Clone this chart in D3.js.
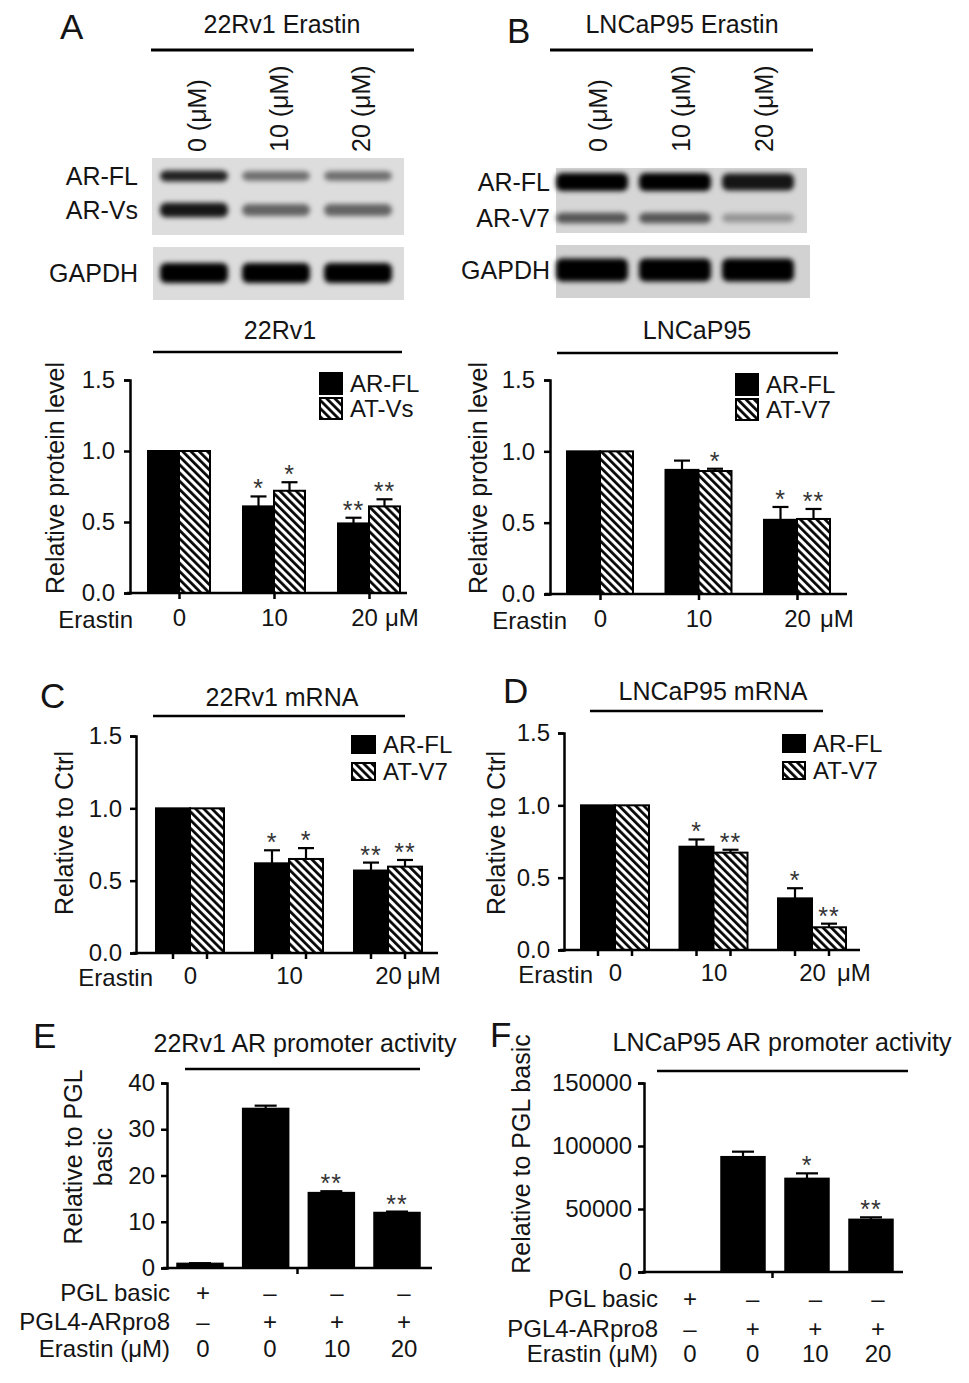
<!DOCTYPE html>
<html><head><meta charset="utf-8">
<script src="https://cdn.jsdelivr.net/npm/d3@7"></script>
<style>
body{margin:0;background:#fff;}
svg text{font-family:"Liberation Sans", Arial, Helvetica, sans-serif;fill:#141414;}
</style></head><body>
<svg id="fig" width="969" height="1383"></svg>
<script>
// ---------------- DATA ----------------
const doseGroups = ["0", "10", "20"];
const blotLanes = ["0 (μM)", "10 (μM)", "20 (μM)"];
const blotRowsA = ["AR-FL", "AR-Vs", "GAPDH"];
const blotRowsB = ["AR-FL", "AR-V7", "GAPDH"];
// relative band intensities (0..1) read from the blots
const bandA_FL = [0.85, 0.5, 0.5];
const bandA_Vs = [0.9, 0.55, 0.55];
const bandA_GAPDH = [1, 1, 1];
const bandB_FL = [1, 1, 0.9];
const bandB_V7 = [0.6, 0.6, 0.3];
const bandB_GAPDH = [1, 1, 1];

const seriesNamesA = ["AR-FL", "AT-Vs"];
const seriesNamesV7 = ["AR-FL", "AT-V7"];

const protA_FL = [1.0, 0.61, 0.49];
const protA_FL_err = [0, 0.07, 0.04];
const protA_Vs = [1.0, 0.72, 0.61];
const protA_Vs_err = [0, 0.06, 0.05];
const protA_FL_sig = ["", "*", "**"];
const protA_Vs_sig = ["", "*", "**"];

const protB_FL = [1.0, 0.87, 0.52];
const protB_FL_err = [0, 0.065, 0.09];
const protB_V7 = [1.0, 0.862, 0.526];
const protB_V7_err = [0, 0.016, 0.07];
const protB_FL_sig = ["", "", "*"];
const protB_V7_sig = ["", "*", "**"];

const mrnaC_FL = [1.0, 0.62, 0.57];
const mrnaC_FL_err = [0, 0.09, 0.055];
const mrnaC_V7 = [1.0, 0.65, 0.597];
const mrnaC_V7_err = [0, 0.075, 0.046];
const mrnaC_FL_sig = ["", "*", "**"];
const mrnaC_V7_sig = ["", "*", "**"];

const mrnaD_FL = [1.0, 0.714, 0.357];
const mrnaD_FL_err = [0, 0.05, 0.07];
const mrnaD_V7 = [1.0, 0.673, 0.157];
const mrnaD_V7_err = [0, 0.02, 0.025];
const mrnaD_FL_sig = ["", "*", "*"];
const mrnaD_V7_sig = ["", "**", "**"];

const promoterConds = ["c1", "c2", "c3", "c4"];
const rowLabels = ["PGL basic", "PGL4-ARpro8", "Erastin (μM)"];
const rowPGLbasic = ["+", "–", "–", "–"];
const rowARpro8 = ["–", "+", "+", "+"];
const rowErastin = ["0", "0", "10", "20"];

const promE = [1.0, 34.5, 16.3, 12.0];
const promE_err = [0.05, 0.6, 0.3, 0.2];
const promE_sig = ["", "", "**", "**"];
const promE_ticks = [0, 10, 20, 30, 40];

const promF = [1, 91500, 74300, 41800];
const promF_err = [0, 4000, 4000, 1600];
const promF_sig = ["", "", "*", "**"];
const promF_ticks = [0, 50000, 100000, 150000];

const protTicks = [0, 0.5, 1.0, 1.5];

// ---------------- SETUP ----------------
const svg = d3.select("#fig");
const defs = svg.append("defs");
const pat = defs.append("pattern").attr("id", "hatch")
  .attr("patternUnits", "userSpaceOnUse").attr("width", 5.8).attr("height", 10)
  .attr("patternTransform", "rotate(-45)");
pat.append("rect").attr("width", 5.8).attr("height", 10).attr("fill", "#fff");
pat.append("line").attr("x1", 1.4).attr("x2", 1.4).attr("y1", 0).attr("y2", 10)
  .attr("stroke", "#000").attr("stroke-width", 2.7);
const flt = defs.append("filter").attr("id", "blur")
  .attr("x", "-30%").attr("y", "-80%").attr("width", "160%").attr("height", "260%");
flt.append("feGaussianBlur").attr("stdDeviation", 2.4);

const FS = 24;
function label(x, y, s, o = {}) {
  const t = svg.append("text").attr("x", x).attr("y", y).text(s)
    .attr("font-size", o.size || FS).attr("text-anchor", o.anchor || "start");
  if (o.rotate) t.attr("transform", `rotate(-90,${x},${y})`);
  return t;
}
function hline(x1, x2, y, w = 2.5) {
  svg.append("line").attr("x1", x1).attr("x2", x2).attr("y1", y).attr("y2", y)
    .attr("stroke", "#000").attr("stroke-width", w);
}

// panel letters
[["A", 60, 39], ["B", 507, 43], ["C", 40, 708], ["D", 503, 703], ["E", 33, 1048], ["F", 490, 1047]]
  .forEach(([s, x, y]) => label(x, y, s, { size: 35 }));

// ---------------- BLOTS ----------------
function drawBlot(cfg) {
  label(cfg.titleX, 33, cfg.title, { anchor: "middle", size: 25 });
  hline(cfg.lineX[0], cfg.lineX[1], 50, 3);
  const lane = d3.scalePoint().domain(blotLanes).range(cfg.laneRange);
  blotLanes.forEach(l => label(lane(l) + 9 + cfg.lblShift, 152, l, { rotate: true, size: 25 }));
  cfg.boxes.forEach(b => svg.append("rect").attr("x", b[0]).attr("y", b[1])
    .attr("width", b[2]).attr("height", b[3]).attr("fill", b[4]));
  cfg.rows.forEach((r, ri) => {
    label(cfg.rowLabelX, cfg.rowY[ri] + 9, r, { anchor: "end", size: 25 });
    const g = svg.append("g").attr("filter", "url(#blur)");
    g.selectAll("rect").data(cfg.bands[ri]).join("rect")
      .attr("x", (d, i) => lane(blotLanes[i]) - cfg.bandW / 2)
      .attr("width", cfg.bandW)
      .attr("y", d => cfg.rowY[ri] - cfg.bandH[ri] * (0.55 + 0.45 * d) / 2)
      .attr("height", d => cfg.bandH[ri] * (0.55 + 0.45 * d))
      .attr("rx", 6)
      .attr("fill", "#000").attr("opacity", d => d);
  });
}
drawBlot({
  title: "22Rv1 Erastin", titleX: 282, lineX: [151, 414],
  laneRange: [194, 358], lblShift: 3, bandW: 68,
  boxes: [[152, 158, 252, 77, "#dddddd"], [153, 247, 251, 53, "#dcdcdc"]],
  rows: blotRowsA, rowLabelX: 138, rowY: [176, 210, 273],
  bands: [bandA_FL, bandA_Vs, bandA_GAPDH], bandH: [12, 15, 20]
});
drawBlot({
  title: "LNCaP95 Erastin", titleX: 682, lineX: [550, 813],
  laneRange: [592, 758], lblShift: 6, bandW: 72,
  boxes: [[556, 168, 251, 65, "#d6d6d6"], [556, 245, 254, 53, "#d2d2d2"]],
  rows: blotRowsB, rowLabelX: 550, rowY: [182, 218, 270],
  bands: [bandB_FL, bandB_V7, bandB_GAPDH], bandH: [18, 13, 23]
});

// ---------------- GROUPED BAR CHARTS ----------------
function styleAxis(g) {
  g.select(".domain").attr("stroke-width", 2.5).attr("stroke", "#000");
  g.selectAll(".tick line").attr("stroke-width", 2.5).attr("stroke", "#000");
  g.selectAll("text").attr("font-size", FS);
}
function errAndSig(g, cx, y, v, e, sig, cap) {
  const top = y(v + e);
  if (e > 0) {
    g.append("line").attr("x1", cx).attr("x2", cx).attr("y1", y(v)).attr("y2", top)
      .attr("stroke", "#000").attr("stroke-width", 2.2);
    g.append("line").attr("x1", cx - cap).attr("x2", cx + cap).attr("y1", top).attr("y2", top)
      .attr("stroke", "#000").attr("stroke-width", 2.2);
  }
  if (sig) g.append("text").attr("x", cx).attr("y", top + 1).text(sig)
    .attr("text-anchor", "middle").attr("font-size", 25).attr("letter-spacing", 1)
    .style("fill", "#333");
}
function drawGrouped(cfg) {
  const g = svg.append("g");
  const y = d3.scaleLinear().domain([0, 1.5]).range([cfg.yBottom, cfg.yTop]);
  const x = d3.scalePoint().domain(doseGroups).range(cfg.centerRange);
  const sub = d3.scaleBand().domain([0, 1]).range([-cfg.bw, cfg.bw]);
  cfg.series.forEach((s, si) => {
    g.append("g").selectAll("rect").data(s.values).join("rect")
      .attr("x", (d, i) => x(doseGroups[i]) + sub(si))
      .attr("y", d => y(d)).attr("width", sub.bandwidth())
      .attr("height", d => y(0) - y(d))
      .attr("fill", si === 0 ? "#000" : "url(#hatch)")
      .attr("stroke", "#000").attr("stroke-width", 2);
    s.values.forEach((v, i) => errAndSig(g, x(doseGroups[i]) + sub(si) + sub.bandwidth() / 2,
      y, v, s.err[i], s.sig[i], 8));
  });
  // y axis
  const ya = g.append("g").attr("transform", `translate(${cfg.axisX},0)`)
    .call(d3.axisLeft(y).tickValues(protTicks).tickFormat(d3.format(".1f"))
      .tickSizeOuter(0).tickSize(6).tickPadding(cfg.yPad));
  styleAxis(ya);
  // x axis line
  g.append("line").attr("x1", cfg.xLine[0]).attr("x2", cfg.xLine[1])
    .attr("y1", y(0)).attr("y2", y(0)).attr("stroke", "#000").attr("stroke-width", 2.5);
  // x tick labels
  const xa = g.append("g").attr("transform", `translate(0,${y(0)})`)
    .call(d3.axisBottom(x).tickSize(cfg.perBar ? 0 : 6).tickPadding(cfg.perBar ? 14 : 10));
  xa.select(".domain").remove();
  styleAxis(xa);
  if (cfg.lastShift) xa.selectAll(".tick text").filter(d => d === "20").attr("dx", cfg.lastShift);
  if (cfg.perBar) {
    doseGroups.forEach(gk => [0, 1].forEach(si => {
      const cx = x(gk) + sub(si) + sub.bandwidth() / 2;
      g.append("line").attr("x1", cx).attr("x2", cx).attr("y1", y(0)).attr("y2", y(0) + 6)
        .attr("stroke", "#000").attr("stroke-width", 2.5);
    }));
  }
  const tb = y(0) + (cfg.perBar ? 31 : 33);
  label(cfg.erastinX, tb + 2, "Erastin", { anchor: "end" });
  label(cfg.umX, tb, "μM");
  // title
  label(cfg.titleX, cfg.titleY, cfg.title, { anchor: "middle", size: 25 });
  hline(cfg.lineX[0], cfg.lineX[1], cfg.lineY, 2.5);
  // y title
  label(cfg.yTitleX, cfg.yTitleY, cfg.yTitle, { rotate: true, anchor: "middle", size: 25 });
  // legend
  const lg = cfg.legend;
  cfg.series.forEach((s, si) => {
    const yy = lg.y + si * lg.step;
    g.append("rect").attr("x", lg.x).attr("y", yy).attr("width", lg.w).attr("height", lg.h)
      .attr("fill", si === 0 ? "#000" : "url(#hatch)").attr("stroke", "#000").attr("stroke-width", 2);
    label(lg.x + lg.w + 8, yy + lg.h / 2 + 8.5, s.name);
  });
}

drawGrouped({
  title: "22Rv1", titleX: 280, titleY: 339, lineX: [153, 402], lineY: 352,
  yTop: 380, yBottom: 593, axisX: 130, yPad: 9, xLine: [127, 407],
  centerRange: [179, 369], bw: 31, perBar: false, lastShift: -5,
  erastinX: 133, umX: 385, yTitle: "Relative protein level", yTitleX: 64, yTitleY: 478,
  legend: { x: 320, y: 373, w: 22, h: 21, step: 25 },
  series: [
    { name: seriesNamesA[0], values: protA_FL, err: protA_FL_err, sig: protA_FL_sig },
    { name: seriesNamesA[1], values: protA_Vs, err: protA_Vs_err, sig: protA_Vs_sig }]
});
drawGrouped({
  title: "LNCaP95", titleX: 697, titleY: 339, lineX: [557, 838], lineY: 353,
  yTop: 380, yBottom: 594, axisX: 550, yPad: 9, xLine: [545, 847],
  centerRange: [600, 797], bw: 33, perBar: false,
  erastinX: 567, umX: 820, yTitle: "Relative protein level", yTitleX: 487, yTitleY: 478,
  legend: { x: 736, y: 374, w: 22, h: 21, step: 25 },
  series: [
    { name: seriesNamesV7[0], values: protB_FL, err: protB_FL_err, sig: protB_FL_sig },
    { name: seriesNamesV7[1], values: protB_V7, err: protB_V7_err, sig: protB_V7_sig }]
});
drawGrouped({
  title: "22Rv1 mRNA", titleX: 282, titleY: 706, lineX: [153, 405], lineY: 716,
  yTop: 736, yBottom: 953, axisX: 136, yPad: 8, xLine: [133, 438],
  centerRange: [190, 388], bw: 34, perBar: true,
  erastinX: 153, umX: 407, yTitle: "Relative to Ctrl", yTitleX: 73, yTitleY: 833,
  legend: { x: 352, y: 736, w: 23, h: 17, step: 27 },
  series: [
    { name: seriesNamesV7[0], values: mrnaC_FL, err: mrnaC_FL_err, sig: mrnaC_FL_sig },
    { name: seriesNamesV7[1], values: mrnaC_V7, err: mrnaC_V7_err, sig: mrnaC_V7_sig }]
});
drawGrouped({
  title: "LNCaP95 mRNA", titleX: 713, titleY: 700, lineX: [590, 823], lineY: 711,
  yTop: 733, yBottom: 950, axisX: 564, yPad: 8, xLine: [560, 860],
  centerRange: [615, 812], bw: 34, perBar: true,
  erastinX: 593, umX: 837, yTitle: "Relative to Ctrl", yTitleX: 505, yTitleY: 833,
  legend: { x: 783, y: 735, w: 22, h: 17, step: 27 },
  series: [
    { name: seriesNamesV7[0], values: mrnaD_FL, err: mrnaD_FL_err, sig: mrnaD_FL_sig },
    { name: seriesNamesV7[1], values: mrnaD_V7, err: mrnaD_V7_err, sig: mrnaD_V7_sig }]
});

// ---------------- PROMOTER CHARTS ----------------
function drawPromoter(cfg) {
  const g = svg.append("g");
  const y = d3.scaleLinear().domain([0, cfg.yMax]).range([cfg.yBottom, cfg.yTop]);
  const x = d3.scalePoint().domain(promoterConds).range(cfg.centerRange);
  const xl = d3.scalePoint().domain(promoterConds).range(cfg.labelRange);
  g.append("g").selectAll("rect").data(cfg.values).join("rect")
    .attr("x", (d, i) => x(promoterConds[i]) - cfg.bw / 2).attr("width", cfg.bw)
    .attr("y", d => y(d)).attr("height", d => y(0) - y(d))
    .attr("fill", "#000").attr("stroke", "#000").attr("stroke-width", 1.5);
  cfg.values.forEach((v, i) => errAndSig(g, x(promoterConds[i]), y, v, cfg.err[i], cfg.sig[i], 11));
  const ya = g.append("g").attr("transform", `translate(${cfg.axisX},0)`)
    .call(d3.axisLeft(y).tickValues(cfg.ticks).tickFormat(d3.format("d"))
      .tickSizeOuter(0).tickSize(6).tickPadding(6));
  styleAxis(ya);
  g.append("line").attr("x1", cfg.xLine[0]).attr("x2", cfg.xLine[1])
    .attr("y1", y(0)).attr("y2", y(0)).attr("stroke", "#000").attr("stroke-width", 2.5);
  const mid = (cfg.xLine[0] + cfg.xLine[1]) / 2;
  g.append("line").attr("x1", mid).attr("x2", mid).attr("y1", y(0)).attr("y2", y(0) + 6)
    .attr("stroke", "#000").attr("stroke-width", 2.5);
  label(cfg.titleX, cfg.titleY, cfg.title, { anchor: "middle", size: 25 });
  hline(cfg.lineX[0], cfg.lineX[1], cfg.lineY, 2.5);
  cfg.yTitles.forEach(t => label(t[1], cfg.yTitleY, t[0], { rotate: true, anchor: "middle", size: 25 }));
  const rows = [rowPGLbasic, rowARpro8, rowErastin];
  rows.forEach((r, ri) => {
    label(cfg.rowLabelX, cfg.rowY[ri], rowLabels[ri], { anchor: "end" });
    r.forEach((s, i) => label(xl(promoterConds[i]), cfg.rowY[ri], s, { anchor: "middle" }));
  });
}
drawPromoter({
  title: "22Rv1 AR promoter activity", titleX: 305, titleY: 1052, lineX: [185, 420], lineY: 1069,
  yMax: 40, ticks: promE_ticks, yTop: 1083, yBottom: 1268, axisX: 167, xLine: [163, 432],
  centerRange: [200, 397], labelRange: [203, 404], bw: 46,
  values: promE, err: promE_err, sig: promE_sig,
  yTitles: [["Relative to PGL", 82], ["basic", 112]], yTitleY: 1157,
  rowLabelX: 170, rowY: [1301, 1330, 1357]
});
drawPromoter({
  title: "LNCaP95 AR promoter activity", titleX: 782, titleY: 1051, lineX: [657, 908], lineY: 1071,
  yMax: 150000, ticks: promF_ticks, yTop: 1083, yBottom: 1272, axisX: 644, xLine: [642, 903],
  centerRange: [679, 871], labelRange: [690, 878], bw: 44,
  values: promF, err: promF_err, sig: promF_sig,
  yTitles: [["Relative to PGL basic", 530]], yTitleY: 1154,
  rowLabelX: 658, rowY: [1307, 1337, 1362]
});
</script>
</body></html>
